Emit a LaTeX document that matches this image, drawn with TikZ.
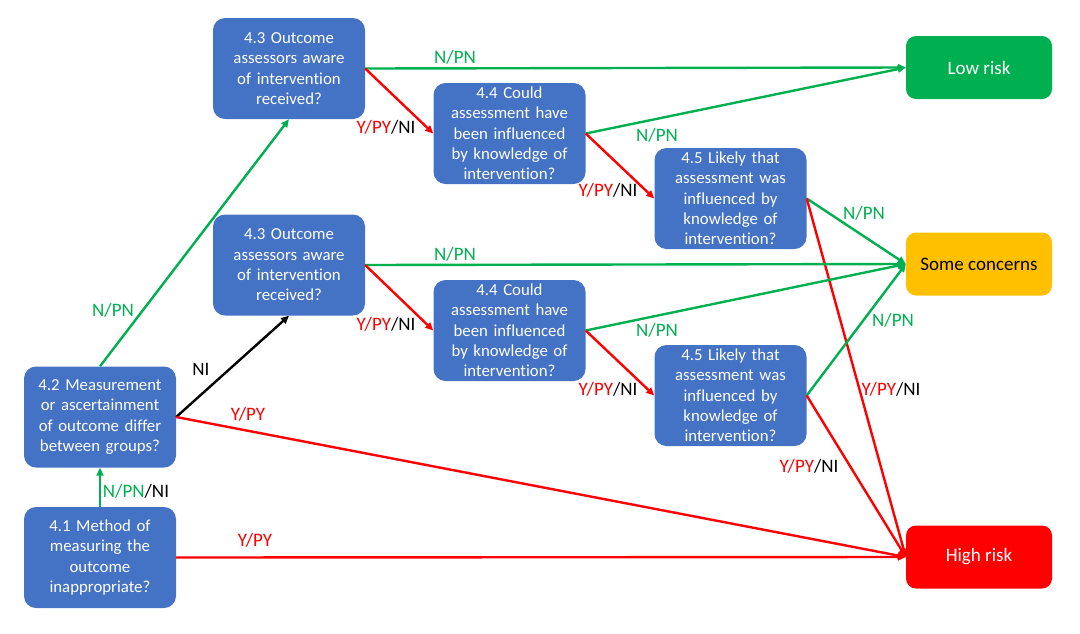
\documentclass[tikz,border=0pt]{standalone}
\usepackage{fontspec}
\setmainfont{Carlito}[Ligatures=NoCommon]
\usetikzlibrary{arrows.meta}
\definecolor{boxblue}{HTML}{4472C4}
\definecolor{rgreen}{HTML}{00B050}
\definecolor{rred}{HTML}{FF0000}
\definecolor{rorange}{HTML}{FFC000}
\tikzset{
	quest/.style={rectangle, rounded corners=12pt, fill=boxblue, text=white, minimum width=152pt, minimum height=101pt, text width=150pt, align=center, inner sep=0pt, font=\fontsize{16.8}{20.3}\selectfont},
	risk/.style={rectangle, rounded corners=10pt, minimum width=146pt, minimum height=63pt, inner sep=0pt, font=\fontsize{19}{22}\selectfont},
	yes/.style={draw=rred, line width=2.4pt, ->},
	no/.style={draw=rgreen, line width=2.4pt, ->},
	ni/.style={draw=black, line width=2.4pt, ->},
	lbl/.style={inner sep=0pt, font=\fontsize{19}{22}\selectfont},
}
\newcommand{\ypyni}{\textcolor{rred}{Y/PY}/NI}
\begin{document}
\begin{tikzpicture}[x=1pt, y=-1pt, >={Triangle[length=8pt, width=7pt]}]
	\useasboundingbox (0,0) rectangle (1080,633);
	%%% Esiti
	\node[risk, fill=rgreen, text=white] (low) at (979,67.5) {Low risk};
	\node[risk, fill=rorange] (some) at (979,264) {Some concerns};
	\node[risk, fill=rred, text=white] (high) at (979,557) {High risk};
	
	%%% Domande
	% colonna 4.1 / 4.2
	\node[quest] (q41) at (100,557.5) {4.1 Method of\\measuring the\\outcome\\inappropriate?};
	\node[quest] (q42) at (100,417) {4.2 Measurement\\or ascertainment\\of outcome differ\\between groups?};
	% ramo alto
	\node[quest] (q43a) at (289,68.5) {4.3 Outcome\\assessors aware\\of intervention\\received?};
	\node[quest] (q44a) at (509.5,133.5) {4.4 Could\\assessment have\\been influenced\\by knowledge of\\intervention?};
	\node[quest] (q45a) at (730.5,198.5) {4.5 Likely that\\assessment was\\influenced by\\knowledge of\\intervention?};
	% ramo basso
	\node[quest] (q43b) at (289,265) {4.3 Outcome\\assessors aware\\of intervention\\received?};
	\node[quest] (q44b) at (509.5,330.5) {4.4 Could\\assessment have\\been influenced\\by knowledge of\\intervention?};
	\node[quest] (q45b) at (730.5,395.5) {4.5 Likely that\\assessment was\\influenced by\\knowledge of\\intervention?};
	
	%%% Frecce
	\draw[no] (q41.north) -- (q42.south);
	\draw[yes] (q41.east) -- (high.west);
	\draw[no] (q42.north) -- (q43a.south);
	\draw[ni] (q42.east) -- (q43b.south);
	\draw[yes] (q42.east) -- (high.west);
	
	\draw[no] (q43a.east) -- (low.west);
	\draw[yes] (q43a.east) -- (q44a.west);
	\draw[no] (q44a.east) -- (low.west);
	\draw[yes] (q44a.east) -- (q45a.west);
	\draw[no] (q45a.east) -- (some.west);
	\draw[yes] (q45a.east) -- (high.west);
	
	\draw[no] (q43b.east) -- (some.west);
	\draw[yes] (q43b.east) -- (q44b.west);
	\draw[no] (q44b.east) -- (some.west);
	\draw[yes] (q44b.east) -- (q45b.west);
	\draw[no] (q45b.east) -- (some.west);
	\draw[yes] (q45b.east) -- (high.west);
	
	%%% Etichette
	\node[lbl] (l1) at (136,491) {\textcolor{rgreen}{N/PN}/NI};
	\node[lbl, text=rred] (l2) at (255,540) {Y/PY};
	\node[lbl, text=rgreen] (l3) at (113,310) {N/PN};
	\node[lbl] (l4) at (201,369) {NI};
	\node[lbl, text=rred] (l5) at (248,414) {Y/PY};
	
	\node[lbl, text=rgreen] (l6) at (455,57) {N/PN};
	\node[lbl] (l7) at (386,127) {\ypyni};
	\node[lbl, text=rgreen] (l8) at (657,135) {N/PN};
	\node[lbl] (l9) at (608,190) {\ypyni};
	\node[lbl, text=rgreen] (l10) at (864,213) {N/PN};
	\node[lbl] (l11) at (891,389) {\ypyni};
	
	\node[lbl, text=rgreen] (l12) at (455,254) {N/PN};
	\node[lbl] (l13) at (386,324) {\ypyni};
	\node[lbl, text=rgreen] (l14) at (657,330) {N/PN};
	\node[lbl] (l15) at (608,389) {\ypyni};
	\node[lbl, text=rgreen] (l16) at (893,320) {N/PN};
	\node[lbl] (l17) at (809,466) {\ypyni};
\end{tikzpicture}
\end{document}
